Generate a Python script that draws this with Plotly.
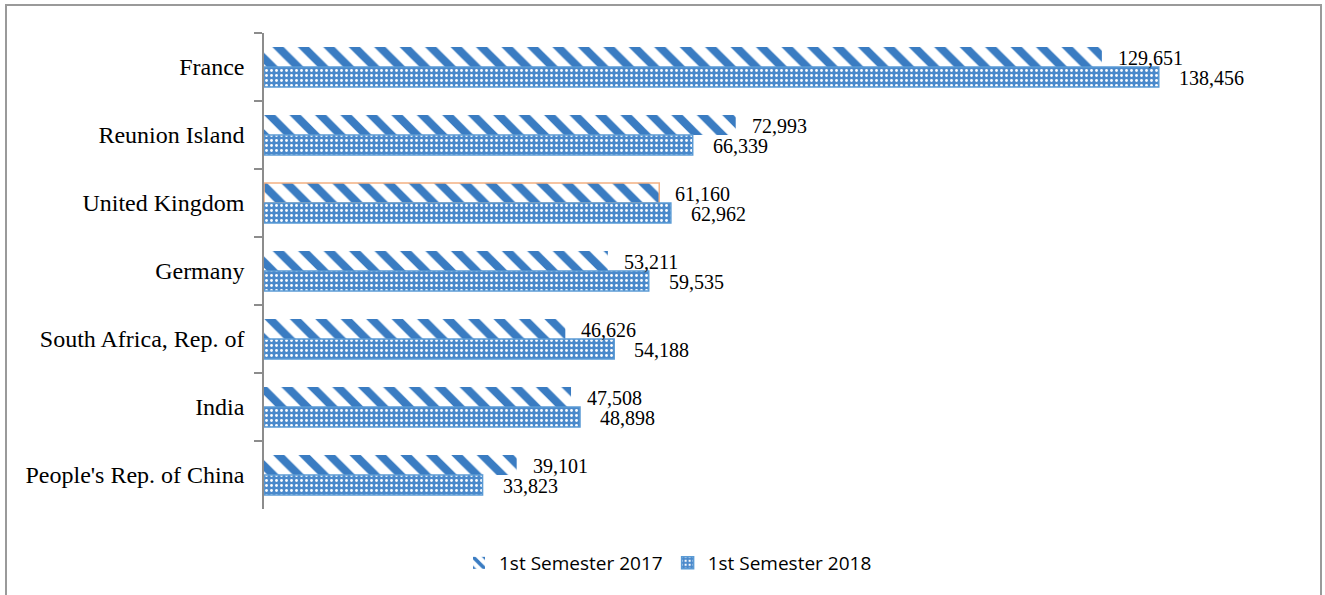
import plotly.graph_objects as go

categories = ["France", "Reunion Island", "United Kingdom", "Germany",
              "South Africa, Rep. of", "India", "People's Rep. of China"]
sem_2017 = [129651, 72993, 61160, 53211, 46626, 47508, 39101]
sem_2018 = [138456, 66339, 62962, 59535, 54188, 48898, 33823]
series_names = ["1st Semester 2017", "1st Semester 2018"]

W, H = 1325, 595
L, R, T, B = 264, 27, 33, 86

blue_stripe = "#3a7cc2"
blue_fill = "#4a89cb"

line_col_2017 = ["rgba(0,0,0,0)"] * len(categories)
line_w_2017 = [0] * len(categories)
line_col_2017[2] = "#f4b183"
line_w_2017[2] = 1.5

fig = go.Figure()
fig.add_trace(go.Bar(
    y=categories, x=sem_2017, orientation="h", name=series_names[0],
    marker=dict(color="white",
                line=dict(color=line_col_2017, width=line_w_2017),
                pattern=dict(shape="\\", fgcolor=blue_stripe, bgcolor="white",
                             size=18, solidity=0.45, fillmode="replace")),
))
fig.add_trace(go.Bar(
    y=categories, x=sem_2018, orientation="h", name=series_names[1],
    marker=dict(color=blue_fill,
                line=dict(color="#5b9bd5", width=1.5),
                pattern=dict(shape=".", fgcolor="white", bgcolor=blue_fill,
                             size=5, solidity=0.25, fillmode="replace")),
))

annotations = []
for c, v in zip(categories, sem_2017):
    annotations.append(dict(x=v, y=c, xref="x", yref="y", text=f"{v:,}",
                            showarrow=False, xanchor="left", yanchor="middle",
                            xshift=14, yshift=9,
                            font=dict(family="Liberation Serif", size=20, color="black")))
for c, v in zip(categories, sem_2018):
    annotations.append(dict(x=v, y=c, xref="x", yref="y", text=f"{v:,}",
                            showarrow=False, xanchor="left", yanchor="middle",
                            xshift=18, yshift=-11,
                            font=dict(family="Liberation Serif", size=20, color="black")))

pw = W - L - R
ph = H - T - B
x0 = (6 - L) / pw
x1 = (1321 - L) / pw
y1 = (H - B - 5) / ph
y0 = (H - B - 600) / ph

fig.update_layout(
    width=W, height=H,
    margin=dict(l=L, r=R, t=T, b=B),
    paper_bgcolor="white", plot_bgcolor="white",
    barmode="group", bargap=0.41, bargroupgap=0,
    annotations=annotations,
    xaxis=dict(range=[0, 160000], visible=False, showgrid=False, zeroline=False),
    yaxis=dict(autorange="reversed", showline=True, linecolor="#8c8c8c", linewidth=1.5,
               ticks="outside", tickson="boundaries", ticklen=8, tickcolor="#8c8c8c",
               tickwidth=1.5, ticklabelstandoff=13,
               tickfont=dict(family="Liberation Serif", size=24, color="black"),
               showgrid=False, zeroline=False),
    legend=dict(orientation="h", x=(668 - L) / pw, xanchor="center",
                y=(H - B - 563) / ph, yanchor="middle",
                font=dict(family="Open Sans", size=19, color="black"),
                itemwidth=30, tracegroupgap=0),
    showlegend=True,
    shapes=[dict(type="rect", xref="paper", yref="paper", x0=x0, x1=x1, y0=y0, y1=y1,
                 line=dict(color="#9a9a9a", width=2), fillcolor="rgba(0,0,0,0)", layer="above")],
)

fig.write_html("out.html")
